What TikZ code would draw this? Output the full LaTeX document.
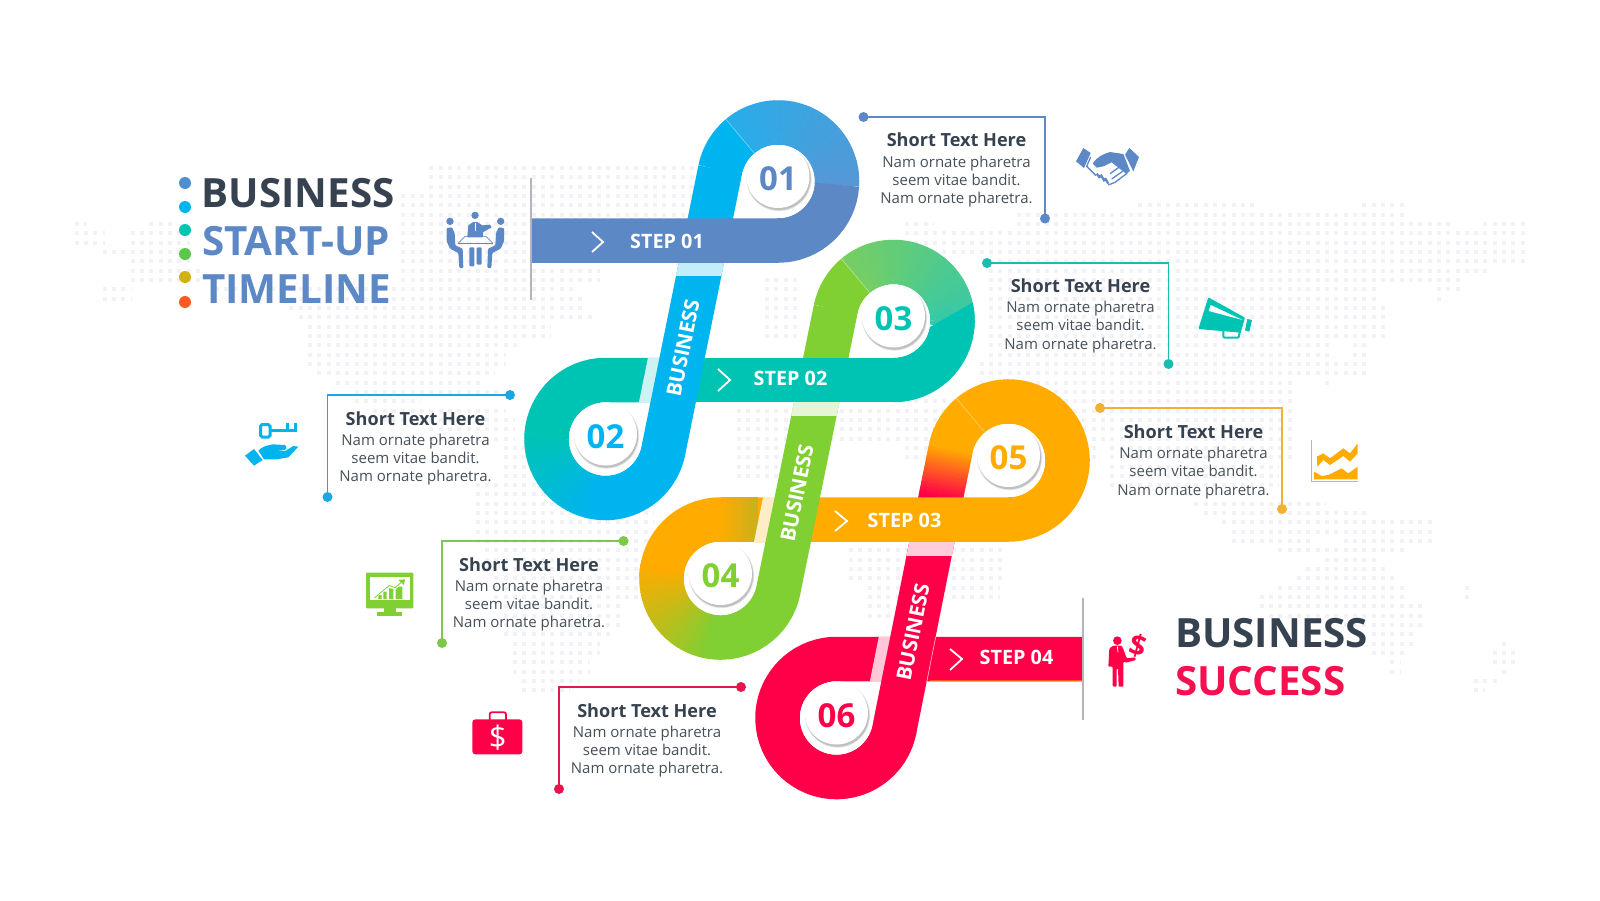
\documentclass[tikz,border=0pt]{standalone}
\usepackage{fontspec}
\setmainfont{Open Sans}
\usetikzlibrary{calc}
\definecolor{cSlate}{HTML}{5C88C6}
\definecolor{cBlue}{HTML}{00B4F0}
\definecolor{cLBlue}{HTML}{28ADE9}
\definecolor{cMBlue}{HTML}{5698D6}
\definecolor{cTeal}{HTML}{00C4B3}
\definecolor{cGreen}{HTML}{80CF33}
\definecolor{cLGreen}{HTML}{78CE62}
\definecolor{cMTeal}{HTML}{34C8AA}
\definecolor{cOrange}{HTML}{FFAB00}
\definecolor{cOlive}{HTML}{C8B01E}
\definecolor{cRed}{HTML}{FF0048}
\definecolor{cDark}{HTML}{36424F}
\definecolor{cBody}{HTML}{474F58}
\definecolor{cDot}{HTML}{F2F2F6}
\definecolor{cSep}{HTML}{B4B5BC}
\definecolor{cTitleRed}{HTML}{F5104F}
\definecolor{cLeadC}{HTML}{18BDB0}
\definecolor{cLeadE}{HTML}{F2B035}
\definecolor{cLeadB}{HTML}{1BA8E0}
\definecolor{cLeadD}{HTML}{7DC84A}
\definecolor{cLeadF}{HTML}{E5154F}
\newcommand\myfs[1]{\fontsize{#1}{#1}\selectfont}
\newcommand\ga[5]{%
  \begin{scope}[even odd rule]
  \clip (#1) circle (81.25pt) (#1) circle (36.75pt);
  \pgfmathtruncatemacro\gn{max(2,abs(#3-#2)/2)}%
  \foreach \ii in {1,...,\gn}{%
    \pgfmathsetmacro\gp{100*(\ii-0.5)/\gn}%
    \pgfmathsetmacro\sa{#2+(#3-#2)*(\ii-1)/\gn}%
    \pgfmathsetmacro\sb{#2+(#3-#2)*(\ii+0.3)/\gn}%
    \path (#1) ++(\sa:100pt) coordinate (pa) (#1) ++(\sb:100pt) coordinate (pb);
    \fill[color=#5!\gp!#4] (#1) -- (pa) -- (pb) -- cycle;
  }
  \end{scope}}
\newcommand\gl[6]{%
  \foreach \ii in {1,...,30}{%
    \pgfmathsetmacro\gp{100*(\ii-0.5)/30}%
    \pgfmathsetmacro\xa{#1+(#3-#1)*(\ii-1)/30}%
    \pgfmathsetmacro\ya{#2+(#4-#2)*(\ii-1)/30}%
    \pgfmathsetmacro\xb{#1+(#3-#1)*(\ii+0.25)/30}%
    \pgfmathsetmacro\yb{#2+(#4-#2)*(\ii+0.25)/30}%
    \draw[band,color=#6!\gp!#5] (\xa,\ya) -- (\xb,\yb);
  }}
\newcommand\btn[4]{%
  \fill[white] (#1) circle (36.5pt);
  \fill[black,opacity=.06] (#1) ++(1,-3) circle (32.8pt);
  \fill[black,opacity=.09] (#1) ++(1,-3) circle (32.2pt);
  \fill[black,opacity=.12] (#1) ++(1,-3) circle (31.6pt);
  \fill[white] (#1) ++(0,-5) circle (31.5pt);
  \path (#1) ++(0,-2.5) node[numtxt,text=#4] (n#2) {#3};
}
\newcommand\callout[9]{%
  \coordinate (a#1) at (#2,#3);
  \coordinate (b#1) at (#4,#5);
  \draw[lead,color=#9] (a#1) -| (b#1);
  \fill[#9] (a#1) circle (5pt);
  \fill[#9] (b#1) circle (5pt);
  \node[shorttxt] (h#1) at (#6,#7) {Short Text Here};
  \node[bodytxt] (t#1) at (#6,#8) {Nam ornate pharetra\\seem vitae bandit.\\Nam ornate pharetra.};
}
\tikzset{
  band/.style={line width=44.5pt},
  lead/.style={line width=1.8pt},
  seam/.style={line width=.6pt,white,opacity=.45},
  numtxt/.style={inner sep=0pt,font=\myfs{33}\bfseries},
  shorttxt/.style={inner sep=0pt,text=cDark,font=\myfs{18.1}\bfseries},
  bodytxt/.style={inner sep=0pt,text=cBody,align=center,font=\fontsize{15}{18.1}\selectfont},
  steptxt/.style={inner sep=0pt,text=white,font=\myfs{19.8}\bfseries},
  bustxt/.style={inner sep=0pt,text=white,rotate=78.5,font=\myfs{20.5}\bfseries},
  bigtxt/.style={inner sep=0pt,anchor=west,font=\myfs{40.3}\bfseries},
  chev/.style={line width=1.8pt,white,line join=miter},
  sep/.style={line width=1.7pt,cSep},
  mapdot/.style={line width=4pt,cDot,dash pattern=on 4pt off 5.33pt},
}
\begin{document}
\begin{tikzpicture}[x=1pt,y=1pt,yscale=-1]
\useasboundingbox (0,0) rectangle (1600,900);
\fill[white] (0,0) rectangle (1600,900);
% world map of dots
\foreach \k/\a/\b in {
18/426/694,19/426/694,20/426/694,21/400/694,22/400/694,22/1136/1258,22/1359/1405,23/400/694,23/1014/1405,
24/73/87,24/149/172,24/400/690,24/900/934,24/1014/1455,24/1477/1527,
25/73/105,25/127/190,25/400/690,25/900/1527,26/73/105,26/127/190,26/400/690,26/900/1527,
27/100/190,27/400/680,27/900/1527,28/127/190,28/400/600,28/984/1527,29/127/200,29/400/600,29/984/1489,
30/127/200,30/400/600,30/760/800,30/984/1460,31/100/131,31/210/577,31/760/800,31/984/1380,31/1430/1464,
32/100/131,32/283/587,32/760/800,32/984/1380,32/1430/1443,33/288/587,33/760/800,33/984/1388,
34/294/596,34/760/800,34/984/1388,35/303/551,35/760/800,35/984/1388,36/303/551,36/760/800,36/984/1388,
37/303/522,37/984/1333,37/1346/1370,38/303/506,38/984/1333,38/1346/1370,39/303/506,39/976/1370,
40/314/495,40/976/1370,41/332/484,41/976/1295,41/1317/1333,42/350/500,42/976/1295,43/350/421,43/908/1295,
44/364/506,44/733/1295,45/364/515,45/733/1295,46/420/515,46/733/1295,47/420/515,47/733/1295,
48/497/654,48/733/800,48/900/1100,48/1106/1295,49/497/654,49/733/800,49/900/1100,49/1106/1295,
50/497/654,50/733/800,50/1106/1279,51/497/654,51/733/800,51/1106/1279,52/470/654,52/1106/1279,
53/470/654,54/470/654,54/1190/1325,55/470/654,55/1199/1371,56/470/654,56/1216/1434,57/470/654,57/1224/1434,
58/470/654,58/1224/1312,58/1338/1434,59/480/650,59/847/1007,59/1270/1405,60/480/650,60/847/1007,60/1317/1380,
61/480/650,61/847/1007,61/1300/1388,62/490/650,62/847/1007,62/1291/1399,63/490/640,63/860/1000,63/1270/1407,63/1460/1472,
64/490/640,64/860/1000,64/1254/1407,64/1460/1472,65/500/620,65/860/890,65/1254/1426,66/500/620,66/860/890,66/1262/1426,
67/500/620,67/1340/1426,68/500/612,68/1363/1418,69/510/600,69/1363/1418,69/1497/1510,70/510/600,70/1363/1405,70/1485/1519,
71/510/590,71/1386/1400,71/1485/1519,72/510/590,72/1386/1400,72/1497/1510,73/520/580,73/1468/1502,74/520/570,74/1468/1485}{
  \pgfmathsetmacro\xq{9.33*ceil(\a/9.33)}
  \pgfmathsetmacro\yq{9.33*\k}
  \draw[mapdot] (\xq,\yq) -- (\b,\yq);
}
% ring centres
\coordinate (c1) at (778,181.5);
\coordinate (c2) at (605.5,439);
\coordinate (c3) at (893.5,321);
\coordinate (c4) at (720.5,578.5);
\coordinate (c5) at (1008.5,460.5);
\coordinate (c6) at (836.5,718);
\path (c1) ++(191.5:59pt) coordinate (d1a);
\path (c2) ++(11.5:59pt) coordinate (d1b);
\path (c3) ++(191.5:59pt) coordinate (d2a);
\path (c4) ++(11.5:59pt) coordinate (d2b);
\path (c5) ++(191.5:59pt) coordinate (d3a);
\path (c6) ++(11.5:59pt) coordinate (d3b);
\coordinate (e1) at (530,240.5);
\coordinate (e4) at (1083,659);
% ---- ring 06 and step 04
\draw[band,cRed] (c6) ++(10:59pt) arc (10:270:59pt) -- (e4);
\draw[line width=1.2pt,color=orange!70!cRed] (930,680.7) -- (1083,680.7);
\begin{scope}
  \clip (800,637) rectangle (1000,681);
  \draw[band,color=cRed!22!white] ([xshift=-11.5pt]d3a) -- ([xshift=-11.5pt]d3b);
\end{scope}
% ---- diagonal 3
\draw[band,cRed] (940.9,497) -- (d3b);
\gl{950.7}{448.8}{940.9}{497}{cOrange}{cRed}
\begin{scope}
  \clip (800,637) rectangle (1000,681);
  \draw[line width=.7pt,white,opacity=.7] ($(d3a)!.5!(d3b)+(22.8,0)$) -- ($(d3b)+(22.8,0)$);
\end{scope}
\begin{scope}
  \clip (850,542) rectangle (1000,555);
  \draw[band,color=cRed!20!white] (d3a) -- (d3b);
\end{scope}
% ---- ring 05, step 03, ring 04
\draw[band,cOrange] (c5) ++(191:59pt) arc (191:450:59pt) -- (755,519.5);
\draw[seam] (c5) ++(230:37pt) -- ++(230:44pt);
\draw[band,cOrange] (c4) ++(180:59pt) arc (180:270:59pt) -- (730,519.5);
\gl{720.5}{519.5}{758}{519.5}{cOrange}{cOlive}
\draw[band,cGreen] (c4) ++(10:59pt) arc (10:100:59pt);
\ga{c4}{99}{190}{cGreen}{cOrange}
\begin{scope}
  \clip (700,497) rectangle (850,542);
  \draw[band,color=cOrange!22!white] ([xshift=-11.5pt]d2a) -- ([xshift=-11.5pt]d2b);
\end{scope}
% ---- diagonal 2
\draw[band,cGreen] (d2a) -- (d2b);
\begin{scope}
  \clip (700,402) rectangle (900,415);
  \draw[band,color=cGreen!20!white] (d2a) -- (d2b);
\end{scope}
% ---- ring 03, step 02, ring 02
\draw[band,cGreen] (c3) ++(191:59pt) arc (191:231:59pt);
\ga{c3}{230}{365}{cLGreen}{cMTeal}
\begin{scope}
  \clip (930,327) -- (1000,287) -- (1000,420) -- (700,420) -- (700,300) -- (890,300) -- cycle;
  \draw[band,cTeal] (c3) ++(300:59pt) arc (300:450:59pt);
\end{scope}
\draw[band,cTeal] (c3) ++(90:59pt) -- (640,380);
\draw[seam] (c3) ++(230:37pt) -- ++(230:44pt);
\draw[band,cTeal] (c2) ++(184:59pt) arc (184:270:59pt) -- (660,380);
\draw[band,cBlue] (c2) ++(10:59pt) arc (10:101:59pt);
\ga{c2}{100}{185}{cBlue}{cTeal}
\begin{scope}
  \clip (600,358) rectangle (720,402);
  \draw[band,color=cBlue!18!cTeal!20!white] ([xshift=-11.5pt]d1a) -- ([xshift=-11.5pt]d1b);
\end{scope}
% ---- diagonal 1
\draw[band,cBlue] (d1a) -- (d1b);
\begin{scope}
  \clip (600,263) rectangle (800,275);
  \draw[band,color=cBlue!24!white] (d1a) -- (d1b);
\end{scope}
% ---- ring 01, step 01
\draw[band,cBlue] (c1) ++(191:59pt) arc (191:231:59pt);
\ga{c1}{230}{363}{cLBlue}{cMBlue}
\draw[band,cSlate] (c1) ++(363:59pt) arc (363:450:59pt) -- (e1);
\draw[seam] (c1) ++(230:37pt) -- ++(230:44pt);
% separators
\coordinate (s1a) at (531,178); \coordinate (s1b) at (531,300);
\coordinate (s2a) at (1083,598); \coordinate (s2b) at (1083,720);
\draw[sep] (s1a) -- (s1b);
\draw[sep] (s2a) -- (s2b);
% buttons
\btn{c1}{1}{01}{cSlate}
\btn{c2}{2}{02}{cBlue}
\btn{c3}{3}{03}{cTeal}
\btn{c4}{4}{04}{cGreen}
\btn{c5}{5}{05}{cOrange}
\btn{c6}{6}{06}{cRed}
% step labels
\draw[chev] (592,232) -- (603,242) -- (592,252);
\node[steptxt] (st1) at (667,241.5) {STEP 01};
\draw[chev] (718,369) -- (730,380) -- (718,391);
\node[steptxt] (st2) at (790.5,378) {STEP 02};
\draw[chev] (835,511) -- (847,521) -- (835,531);
\node[steptxt] (st3) at (904.5,520) {STEP 03};
\draw[chev] (950,649) -- (962,659) -- (950,670);
\node[steptxt] (st4) at (1016.5,657) {STEP 04};
\node[bustxt] (bu1) at (683,348) {BUSINESS};
\node[bustxt] (bu2) at (797,493) {BUSINESS};
\node[bustxt] (bu3) at (913,632) {BUSINESS};
% titles
\foreach \yy/\cc in {183/4F8FD0,207/00B5EF,230/00C4B3,254/5CC84A,277/CFB312,302/FF5A1F}{
  \definecolor{cTmp}{HTML}{\cc}
  \fill[cTmp] (185,\yy) circle (6pt);
}
\node[bigtxt,text=cDark] (ti1) at (201.5,193) {BUSINESS};
\node[bigtxt,text=cSlate] (ti2) at (202,241) {START-UP};
\node[bigtxt,text=cSlate] (ti3) at (202,289) {TIMELINE};
\node[bigtxt,text=cDark] (ti4) at (1175,633) {BUSINESS};
\node[bigtxt,text=cTitleRed] (ti5) at (1175,681) {SUCCESS};
% callouts
\callout{1}{863.5}{117}{1045}{218.5}{956.5}{140}{181.5}{cSlate}
\callout{3}{987}{263}{1168.5}{364}{1080.5}{286}{327}{cLeadC}
\callout{5}{1100}{408}{1282}{509}{1193.5}{431.5}{473}{cLeadE}
\callout{2}{510}{395}{327.5}{497}{415.5}{418.5}{459.5}{cLeadB}
\callout{4}{623.5}{541}{442}{643}{529}{564.5}{605.5}{cLeadD}
\callout{6}{741}{687}{559}{789}{647}{710.5}{751.5}{cLeadF}
% meeting icon
\begin{scope}[shift={(440,208)},scale=.33333]
  \fill[cSlate] (30,40) circle (11pt) (105,22) circle (11pt) (182,40) circle (11pt);
  \fill[cSlate,rounded corners=1pt] (20,60) -- (36,58) -- (44,75) -- (46,112) -- (68,122) -- (70,180) -- (58,180) -- (55,135) -- (30,122) -- (20,100) -- cycle;
  \fill[cSlate,rounded corners=1pt] (192,60) -- (176,58) -- (168,75) -- (166,112) -- (144,122) -- (142,180) -- (154,180) -- (157,135) -- (182,122) -- (192,100) -- cycle;
  \fill[cSlate] (82,88) -- (85,52) -- (100,42) -- (112,42) -- (127,52) -- (150,50) -- (155,58) -- (130,72) -- (128,88) -- cycle;
  \draw[white,line width=.8pt] (105,45) -- (105,68);
  \draw[cSlate,line width=.8pt] (55,105) -- (75,85) -- (138,85) -- (158,105);
  \draw[cSlate,line width=1.4pt] (55,107) -- (158,107);
  \fill[cSlate,rounded corners=1pt] (88,118) rectangle (103,175) (110,118) rectangle (125,170);
\end{scope}
% handshake icon
\begin{scope}[shift={(1070,143)},scale=.33333]
  \fill[cSlate] (40,15) -- (62,30) -- (42,75) -- (18,55) -- cycle;
  \fill[cSlate] (178,15) -- (207,42) -- (190,85) -- (165,35) -- cycle;
  \fill[cSlate] (68,62) .. controls (82,40) and (100,33) .. (120,27) -- (160,33) -- (180,84) -- (168,92) -- (125,58) -- (100,70) -- (80,74) -- cycle;
  \draw[cSlate,line width=1.3pt] (62,42) -- (50,70) -- (78,98);
  \draw[cSlate,line width=2.2pt] (80,92) -- (90,105) (92,95) -- (104,115) (105,105) -- (115,122);
  \draw[cSlate,line width=1.3pt] (115,126) -- (135,118) -- (172,90) (125,108) -- (158,85) (120,92) -- (148,72);
\end{scope}
% megaphone icon
\begin{scope}[shift={(1050,130)},scale=.33333]
  \fill[cTeal,rounded corners=1pt] (475,502) -- (585,563) -- (572,608) -- (445,597) -- cycle;
  \fill[white] (482,525) -- (578,570) -- (476,543) -- cycle;
  \fill[cTeal] (592,567) -- (606,570) -- (598,605) -- (585,601) -- cycle;
  \draw[cTeal,line width=2pt,rounded corners=1pt] (520,600) -- (520,623) -- (566,623) -- (570,603);
\end{scope}
% key and hand icon
\begin{scope}[shift={(230,400)},scale=.33333]
  \fill[cBlue] (45,167) -- (72,147) -- (98,180) -- (72,197) -- cycle;
  \fill[cBlue] (85,152) .. controls (95,140) and (115,135) .. (130,133) -- (165,135) .. controls (172,143) and (170,150) .. (160,150) -- (130,150) -- (165,153) -- (190,138) -- (205,140) -- (175,172) -- (140,178) -- (102,178) -- cycle;
  \draw[cBlue,line width=3pt,rounded corners=1.5pt] (92,74) rectangle (120,111);
  \draw[cBlue,line width=2.4pt] (122,92) -- (200,92);
  \draw[cBlue,line width=2.6pt] (172,70) -- (172,92) (197,70) -- (197,96);
\end{scope}
% monitor icon
\begin{scope}[shift={(230,400)},scale=.33333]
  \fill[cGreen,rounded corners=1pt] (408,518) rectangle (550,625);
  \fill[white] (420,530) rectangle (540,600);
  \fill[cGreen] (462,625) rectangle (498,637);
  \fill[cGreen] (441,637) rectangle (517,647);
  \fill[cGreen] (445,585) rectangle (455,597) (460,575) rectangle (470,597) (477,565) rectangle (490,597) (497,560) rectangle (517,597);
  \draw[white,line width=1pt] (430,597) -- (478,560) -- (495,567) -- (530,537);
  \draw[cGreen,line width=.8pt] (433,594) -- (478,556) -- (495,563) -- (520,542);
  \fill[cGreen] (505,540) -- (525,538) -- (522,555) -- cycle;
\end{scope}
% growth chart icon
\begin{scope}[shift={(1060,420)},scale=.33333]
  \draw[color=cLeadE,line width=1.2pt] (755,60) -- (755,185) -- (893,185);
  \fill[cOrange] (770,110) -- (790,100) -- (810,115) -- (850,85) -- (870,100) -- (893,70) -- (893,100) -- (870,125) -- (850,108) -- (810,135) -- (790,120) -- (772,140) -- cycle;
  \fill[cOrange] (762,155) -- (785,168) -- (805,165) -- (845,145) -- (865,160) -- (893,140) -- (893,178) -- (762,178) -- cycle;
\end{scope}
% briefcase icon
\begin{scope}[shift={(465,700)},scale=.33333]
  \draw[cRed,line width=1.8pt,rounded corners=2pt] (74,60) -- (74,37) -- (123,37) -- (123,60);
  \fill[cRed,rounded corners=3pt] (22,58) rectangle (172,163);
  \node[inner sep=0pt,text=white,font=\myfs{31}] (dollar1) at (98,112) {\$};
\end{scope}
% businessman icon
\begin{scope}[shift={(1100,625)},scale=.33333]
  \fill[cRed] (52,47) circle (13pt);
  \fill[cRed,rounded corners=1pt] (28,70) -- (40,62) -- (65,62) -- (70,72) -- (80,100) -- (105,97) -- (108,105) -- (78,113) -- (70,110) -- (70,185) -- (56,185) -- (54,130) -- (50,130) -- (50,185) -- (38,185) -- (38,125) -- (33,125) -- (25,125) -- cycle;
  \draw[white,line width=.7pt] (52,64) -- (54,82);
  \node[inner sep=0pt,text=cRed,rotate=-15,font=\myfs{29}\bfseries] (dollar2) at (114,62) {\$};
\end{scope}
\end{tikzpicture}
\end{document}
